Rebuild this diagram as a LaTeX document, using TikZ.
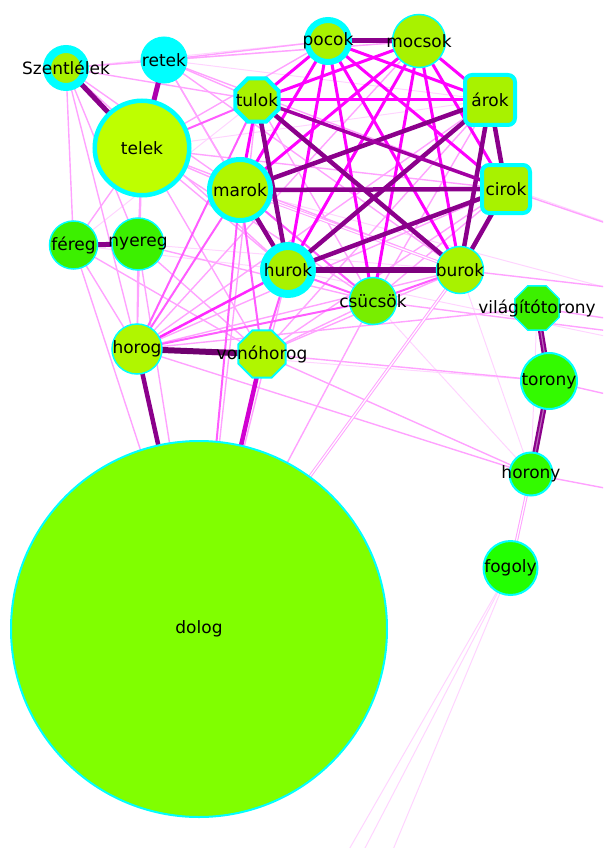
\documentclass[tikz,border=0pt]{standalone}
\usepackage{fontspec}
\setsansfont{DejaVu Sans}
\usetikzlibrary{shapes.geometric,backgrounds}

\definecolor{ring}{HTML}{00FFFF}
\definecolor{heavy}{HTML}{8B008B}
\definecolor{magent}{HTML}{FF00FF}
\definecolor{midpink}{HTML}{FF5CFF}
\definecolor{litpink}{HTML}{FFA2FF}
\definecolor{faint}{HTML}{FFD4FF}
\definecolor{cTelek}{HTML}{BEFF00}
\definecolor{cLime}{HTML}{A8F200}
\definecolor{cLime2}{HTML}{B0F600}
\definecolor{cCsu}{HTML}{78EE00}
\definecolor{cGreen}{HTML}{3CF000}
\definecolor{cGreen2}{HTML}{33FA00}
\definecolor{cFog}{HTML}{22FF00}
\definecolor{cDolog}{HTML}{80FF00}

\begin{document}
\begin{tikzpicture}[x=1pt,y=-1pt,
  every label/.style={font=\sffamily\fontsize{17pt}{19pt}\selectfont, text=black, inner sep=0pt},
  vtx/.style={circle, draw=ring, inner sep=0pt, outer sep=0pt},
  oct/.style={regular polygon, regular polygon sides=8, draw=ring, inner sep=0pt, outer sep=0pt},
  sq/.style={rectangle, rounded corners=7pt, draw=ring, inner sep=0pt, outer sep=0pt},
  eV/.style={draw=faint, line width=1pt},
  eL/.style={draw=litpink, line width=1.4pt},
  eP/.style={draw=midpink, line width=2pt},
  eM/.style={draw=magent, line width=3pt},
  eH/.style={draw=heavy, line width=4.5pt},
  pair/.style={draw=heavy, line width=2.2pt, double=#1, double distance=1.2pt}
]
\useasboundingbox (0,0) rectangle (603,848);

% vertices
\node[vtx, fill=cLime, line width=8pt, minimum size=38pt, label=center:Szentlélek] (szent) at (66,68) {};
\node[vtx, fill=ring, line width=1pt, minimum size=46pt, label=center:retek] (retek) at (164,60) {};
\node[vtx, fill=cTelek, line width=4.5pt, minimum size=94.5pt, label=center:telek] (telek) at (142,148) {};
\node[vtx, fill=cLime, line width=6pt, minimum size=42pt, label=center:pocok] (pocok) at (328,41) {};
\node[vtx, fill=cLime, line width=1.5pt, minimum size=53pt, label=center:mocsok] (mocsok) at (419,41) {};
\node[oct, fill=cLime, line width=4pt, minimum size=47pt, label=center:tulok] (tulok) at (257,100) {};
\node[sq, fill=cLime, line width=4pt, minimum size=50pt, label=center:árok] (arok) at (490,100) {};
\node[sq, fill=cLime, line width=4pt, minimum size=48pt, label=center:cirok] (cirok) at (506,189) {};
\node[vtx, fill=cLime2, line width=5pt, minimum size=61pt, label=center:marok] (marok) at (240,190) {};
\node[vtx, fill=cGreen, line width=1.5pt, minimum size=48pt, label=center:féreg] (fereg) at (73.5,245) {};
\node[vtx, fill=cGreen, line width=1.5pt, minimum size=52pt, label=center:nyereg] (nyereg) at (138,244) {};
\node[vtx, fill=cLime, line width=8pt, minimum size=48pt, label=center:hurok] (hurok) at (288,270) {};
\node[vtx, fill=cLime, line width=1.5pt, minimum size=47pt, label=center:burok] (burok) at (460,270) {};
\node[vtx, fill=cCsu, line width=1.5pt, minimum size=47pt, label=center:csücsök] (csucsok) at (373,301) {};
\node[oct, fill=cGreen, line width=1.5pt, minimum size=48pt, label=center:világítótorony] (vilag) at (537,308) {};
\node[vtx, fill=cGreen2, line width=2pt, minimum size=56pt, label=center:torony] (torony) at (549,381) {};
\node[vtx, fill=cGreen2, line width=2pt, minimum size=43pt, label=center:horony] (horony) at (531,474) {};
\node[vtx, fill=cFog, line width=2pt, minimum size=54pt, label=center:fogoly] (fogoly) at (510.5,568) {};
\node[vtx, fill=cLime2, line width=1.5pt, minimum size=50pt, label=center:horog] (horog) at (137,349) {};
\node[oct, fill=cLime2, line width=2pt, minimum size=51pt, label=center:vonóhorog] (vonohorog) at (262,354) {};
\node[vtx, fill=cDolog, line width=2pt, minimum size=376pt, label=center:dolog] (dolog) at (199,629) {};

% edge ends beyond the frame
\coordinate (oR1) at (720,262);
\coordinate (oR2) at (720,300);
\coordinate (oR3) at (720,318);
\coordinate (oR4) at (720,345);
\coordinate (oR5) at (720,335);
\coordinate (oR6) at (720,420);
\coordinate (oR7) at (720,510);
\coordinate (oR8) at (720,360);
\coordinate (oB1) at (320,900);
\coordinate (oB2) at (338,900);
\coordinate (oB3) at (372,900);

\begin{pgfonlayer}{background}
\clip (0,0) rectangle (603,848);
% faint links
\foreach \a/\b in {szent/pocok, szent/mocsok, retek/arok, telek/arok, fereg/tulok, fereg/hurok,
  nyereg/burok, horog/torony, horony/burok, horony/vilag, horony/csucsok,
  fogoly/oB1, fogoly/oB2, fogoly/oB3,
  hurok/oR8, marok/oR3, tulok/oR1}
  \draw[eV] (\a.center) -- (\b.center);
% light links
\foreach \a/\b in {szent/retek, szent/fereg, szent/tulok, szent/marok, szent/hurok, szent/nyereg, szent/horog,
  retek/pocok, retek/mocsok, retek/tulok, retek/marok, retek/hurok, retek/burok, retek/cirok,
  telek/marok, telek/hurok, telek/csucsok, telek/burok, telek/fereg, telek/nyereg, telek/horog,
  telek/vonohorog, telek/cirok, telek/pocok,
  fereg/horog, fereg/dolog, fereg/vonohorog,
  nyereg/horog, nyereg/vonohorog, nyereg/csucsok, nyereg/dolog,
  horog/burok, horog/cirok, horog/arok, horog/horony, horog/vilag, horog/mocsok,
  vonohorog/burok, vonohorog/csucsok, vonohorog/horony, vonohorog/cirok, vonohorog/torony, vonohorog/arok,
  marok/csucsok, dolog/hurok, dolog/csucsok, dolog/tulok,
  csucsok/arok, csucsok/cirok, csucsok/tulok,
  burok/oR2, cirok/oR1, csucsok/oR4, vilag/oR5, torony/oR6, horony/oR7}
  \draw[eL] (\a.center) -- (\b.center);
\draw[litpink, line width=1pt, double=white, double distance=1.2pt] (marok.center) -- (burok.center);
\draw[litpink, line width=1pt, double=white, double distance=1.2pt] (dolog.center) -- (burok.center);
\draw[litpink, line width=1pt, double=white, double distance=1.2pt] (horony.center) -- (fogoly.center);
% medium links
\foreach \a/\b in {telek/tulok, horog/csucsok, horog/marok, horog/tulok, vonohorog/hurok, vonohorog/marok,
  csucsok/hurok, csucsok/burok, csucsok/marok, marok/dolog}
  \draw[eP] (\a.center) -- (\b.center);
% strong links
\foreach \a/\b in {pocok/tulok, pocok/marok, pocok/hurok, pocok/arok, pocok/cirok, pocok/burok, pocok/csucsok,
  mocsok/tulok, mocsok/marok, mocsok/hurok, mocsok/arok, mocsok/cirok, mocsok/burok, mocsok/csucsok,
  tulok/arok, tulok/marok}
  \draw[eM] (\a.center) -- (\b.center);
\draw[draw=magent!85!white, line width=2.5pt] (horog.center) -- (hurok.center);
% heaviest links
\foreach \a/\b in {tulok/burok, tulok/hurok, marok/cirok, marok/arok, hurok/arok, hurok/cirok,
  arok/burok, cirok/burok, arok/cirok, marok/hurok, horog/dolog}
  \draw[eH] (\a.center) -- (\b.center);
\draw[draw=heavy!80!magent, line width=3.5pt] (tulok.center) -- (cirok.center);
\draw[draw=heavy, line width=5pt] (szent.center) -- (telek.center);
\draw[draw=heavy!70!magent, line width=5pt] (retek.center) -- (telek.center);
\draw[draw=heavy, line width=5pt] (pocok.center) -- (mocsok.center);
\draw[draw=heavy, line width=5pt] (fereg.center) -- (nyereg.center);
\draw[draw=heavy!80!black, line width=6pt] (horog.center) -- (vonohorog.center);
\draw[draw=heavy!40!magent, line width=4.5pt] (vonohorog.center) -- (dolog.center);
\draw[draw=heavy!90!black, line width=6pt] (hurok.center) -- (burok.center);
\draw[pair=heavy!60!white] (vilag.center) -- (torony.center);
\draw[pair=heavy!60!white] (torony.center) -- (horony.center);
\end{pgfonlayer}
\end{tikzpicture}
\end{document}
